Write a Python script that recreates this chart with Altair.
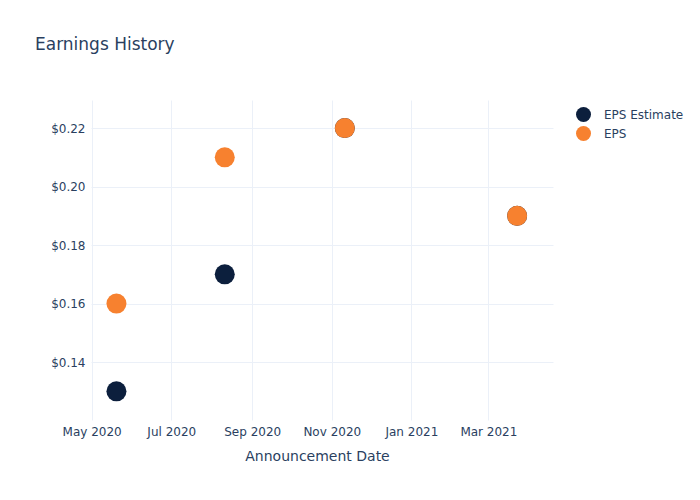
import altair as alt
import pandas as pd

dates = ["2020-05-20", "2020-08-11", "2020-11-11", "2021-03-23"]
eps_estimate = [0.13, 0.17, 0.22, 0.19]
eps_actual = [0.16, 0.21, 0.22, 0.19]
series_names = ["EPS Estimate", "EPS"]
series_colors = ["#0c1f3d", "#f7812f"]
y_ticks = [0.14, 0.16, 0.18, 0.20, 0.22]

rows = []
for d, v in zip(dates, eps_estimate):
    rows.append({"date": d, "value": v, "series": series_names[0]})
for d, v in zip(dates, eps_actual):
    rows.append({"date": d, "value": v, "series": series_names[1]})
df = pd.DataFrame(rows)

FONT = "DejaVu Sans"
TXT = "#2a3f5f"
GRID = "#ebf0f8"

x_ticks = [
    alt.DateTime(year=2020, month=5, date=1, utc=True),
    alt.DateTime(year=2020, month=7, date=1, utc=True),
    alt.DateTime(year=2020, month=9, date=1, utc=True),
    alt.DateTime(year=2020, month=11, date=1, utc=True),
    alt.DateTime(year=2021, month=1, date=1, utc=True),
    alt.DateTime(year=2021, month=3, date=1, utc=True),
]

chart = (
    alt.Chart(df)
    .mark_circle(size=400, opacity=1)
    .encode(
        x=alt.X(
            "date:T",
            title="Announcement Date",
            scale=alt.Scale(
                type="utc",
                domain=[
                    alt.DateTime(year=2020, month=4, date=30, hours=12, utc=True),
                    alt.DateTime(year=2021, month=4, date=19, hours=12, utc=True),
                ],
            ),
            axis=alt.Axis(
                values=x_ticks,
                format="%b %Y",
                grid=True,
                gridColor=GRID,
                domain=False,
                ticks=False,
                labelPadding=6,
                labelFont=FONT,
                labelFontSize=12,
                labelColor=TXT,
                titleFont=FONT,
                titleFontSize=14,
                titleFontWeight="normal",
                titleColor=TXT,
                titlePadding=12,
                titleX=226,
                titleAlign="center",
                labelFlush=False,
            ),
        ),
        y=alt.Y(
            "value:Q",
            title=None,
            scale=alt.Scale(domain=[0.1202, 0.2296], nice=False, zero=False),
            axis=alt.Axis(
                values=y_ticks,
                format="$.2f",
                grid=True,
                gridColor=GRID,
                domain=False,
                ticks=False,
                labelPadding=6,
                labelFont=FONT,
                labelFontSize=12,
                labelColor=TXT,
            ),
        ),
        color=alt.Color(
            "series:N",
            scale=alt.Scale(domain=series_names, range=series_colors),
            legend=alt.Legend(
                title=None,
                orient="none",
                legendX=484,
                legendY=6,
                symbolType="circle",
                symbolSize=225,
                symbolOpacity=1,
                labelFont=FONT,
                labelFontSize=12,
                labelColor=TXT,
                rowPadding=3,
                labelOffset=12,
            ),
        ),
        order=alt.Order("series:N", sort="descending"),
    )
    .properties(
        width=462,
        height=320,
        background="white",
        title=alt.TitleParams(
            "Earnings History",
            anchor="start",
            frame="group",
            dx=-56,
            offset=46,
            font=FONT,
            fontSize=17,
            fontWeight="normal",
            color=TXT,
        ),
        autosize=alt.AutoSizeParams(type="none"),
        padding={"left": 91, "top": 100, "right": 147, "bottom": 80},
    )
    .configure_view(strokeWidth=0, stroke="transparent")
)

chart.save("out.html", embed_options={"renderer": "svg", "actions": False})
